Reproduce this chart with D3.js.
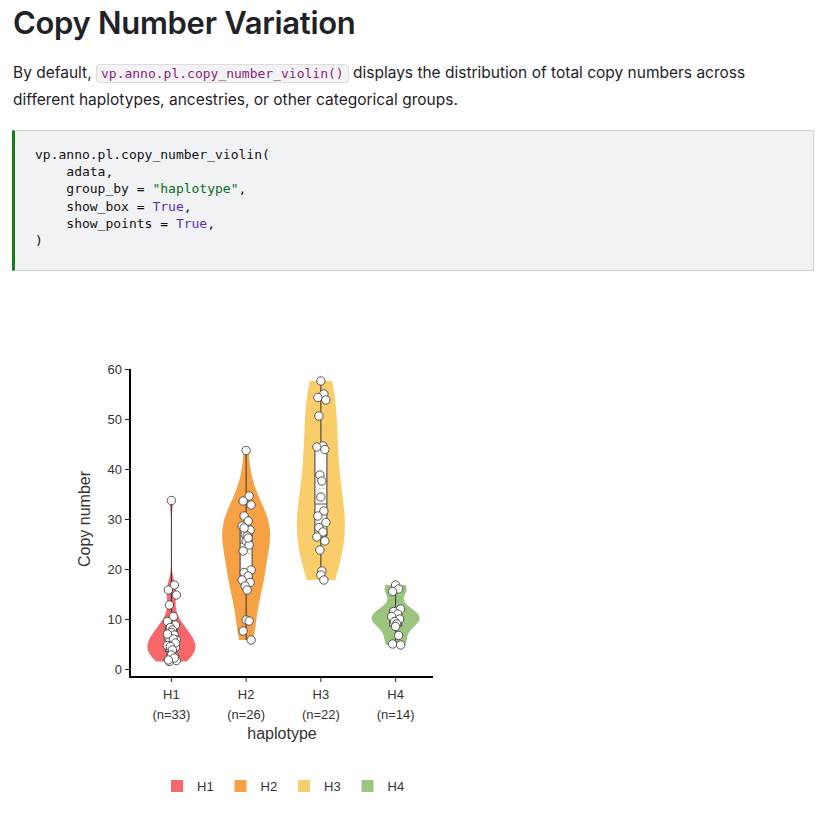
<!DOCTYPE html>
<html><head><meta charset="utf-8">
<script src="https://cdn.jsdelivr.net/npm/d3@7"></script>
<style>
body{margin:0;background:#fff;font-family:Inter,"Noto Sans",sans-serif;color:#1f2328}
h1{position:absolute;left:13px;top:4px;margin:0;font-size:31px;font-weight:600;letter-spacing:-0.3px}
p{position:absolute;left:13px;top:60px;margin:0;width:790px;font-size:15.5px;line-height:26px}
code.i{font-family:"DejaVu Sans Mono",monospace;font-size:13px;color:#8a1f7a;background:#f3f3f5;border:1px solid #ddd;border-radius:4px;padding:1px 4px}
pre{position:absolute;left:12px;top:130px;width:778px;height:124px;margin:0;background:#f1f2f4;border:1px solid #d0d0d0;border-left:3px solid #1a7a1a;padding:15px 0 0 20px;box-sizing:content-box;font-family:"DejaVu Sans Mono",monospace;font-size:13px;line-height:17.2px;color:#111}
.s{color:#0a6a1a}.k{color:#5b2bc4}
svg{position:absolute;left:0;top:0}
</style></head><body>
<h1>Copy Number Variation</h1>
<p>By default, <code class="i">vp.anno.pl.copy_number_violin()</code> displays the distribution of total copy numbers across different haplotypes, ancestries, or other categorical groups.</p>
<pre>vp.anno.pl.copy_number_violin(
    adata,
    group_by = <span class="s">"haplotype"</span>,
    show_box = <span class="k">True</span>,
    show_points = <span class="k">True</span>,
)</pre>
<svg id="c" width="818" height="820"></svg>
<script>
const categories=["H1","H2","H3","H4"];
const counts=[33,26,22,14];
const colors=["#F8676A","#F7A145","#F9CD6A","#9BC47E"];
const H1=[33.7,16.8,15.8,14.8,12.8,10.5,9.5,8.8,8.3,7.8,7.3,6.8,6.3,5.8,5.5,5.0,4.7,4.3,4.0,3.5,3.0,2.5,2.0,1.7,1.5,6.0,7.0,5.2,4.5,3.8,2.8,2.2,1.8];
const H2=[43.7,34.6,33.6,32.8,30.6,29.6,28.6,27.8,26.9,26.6,25.6,24.8,23.6,19.8,19.3,18.6,17.8,17.3,16.6,15.8,9.8,9.6,7.6,5.8,28.2,26.2];
const H3=[57.6,55.0,54.3,53.8,50.6,44.6,44.4,43.9,38.8,37.6,34.4,31.6,30.6,29.3,28.3,27.4,26.4,25.6,23.8,19.6,18.8,17.8];
const H4=[16.8,16.0,15.5,12.0,11.5,11.0,10.5,10.0,9.5,9.0,8.5,6.7,5.0,4.8];
const groups=[H1,H2,H3,H4];
const yTicks=[0,10,20,30,40,50,60];
const FF="Arial,Liberation Sans,sans-serif";
const svg=d3.select("#c");
const x=d3.scaleBand().domain(categories).range([134,433]).padding(0);
const cx=d=>x(d)+x.bandwidth()/2;
const y=d3.scaleLinear().domain([0,60]).range([669,369]);
const g=svg.append("g");
const halfW=24;
groups.forEach((vals,i)=>{
  const c=cx(categories[i]);
  const s=vals.slice().sort(d3.ascending);
  const n=s.length,sd=d3.deviation(s),iqr=d3.quantile(s,.75)-d3.quantile(s,.25);
  const bw=1.06*Math.min(sd,iqr/1.34)*Math.pow(n,-0.2);
  const lo=s[0],hi=s[n-1];
  const pts=d3.range(0,101).map(k=>{const v=lo+(hi-lo)*k/100;return [v,d3.sum(s,d=>Math.exp(-0.5*((v-d)/bw)**2))];});
  const mx=d3.max(pts,p=>p[1]);
  const w=d3.scaleLinear().domain([0,mx]).range([0,halfW]);
  g.append("path").attr("d",d3.area().y(p=>y(p[0])).x0(p=>c-w(p[1])).x1(p=>c+w(p[1])).curve(d3.curveBasis)(pts)).attr("fill",colors[i]);
  const q1=d3.quantile(s,.25),q3=d3.quantile(s,.75),med=d3.median(s),mean=d3.mean(s);
  g.append("line").attr("x1",c).attr("x2",c).attr("y1",y(lo)).attr("y2",y(hi)).attr("stroke","#333").attr("stroke-width",1);
  g.append("rect").attr("x",c-6).attr("width",12).attr("y",y(q3)).attr("height",y(q1)-y(q3)).attr("fill","#fff").attr("stroke","#555").attr("stroke-width",1.2);
  g.append("line").attr("x1",c-6).attr("x2",c+6).attr("y1",y(med)).attr("y2",y(med)).attr("stroke","#555");
  g.append("line").attr("x1",c-6).attr("x2",c+6).attr("y1",y(mean)).attr("y2",y(mean)).attr("stroke",colors[i]).attr("stroke-dasharray","2,2");
  vals.forEach((v,j)=>{
    const off=[0,3,-3,5,-2,2,-4,4,-1,1][j%10];
    g.append("circle").attr("cx",c+off).attr("cy",y(v)).attr("r",4.2).attr("fill","#fff").attr("stroke","#444").attr("stroke-width",0.9);
  });
});
const ya=svg.append("g").attr("transform","translate(130,0)").call(d3.axisLeft(y).tickValues(yTicks).tickSize(5).tickPadding(3));
ya.select(".domain").attr("stroke","#000").attr("stroke-width",2).attr("d","M0,369V677");
ya.selectAll("text").attr("font-size",13).attr("fill","#333").attr("font-family",FF);
const xa=svg.append("g").attr("transform","translate(0,677)").call(d3.axisBottom(x).tickSize(5).tickFormat(()=>""));
xa.select(".domain").attr("stroke","#000").attr("stroke-width",2).attr("d","M129,0H433");
categories.forEach((cat,i)=>{
  const c=cx(cat);
  const t=svg.append("text").attr("x",c).attr("text-anchor","middle").attr("font-size",13).attr("fill","#333").attr("font-family",FF);
  t.append("tspan").attr("x",c).attr("y",699).text(cat);
  t.append("tspan").attr("x",c).attr("y",719).text(`(n=${counts[i]})`);
});
svg.append("text").attr("x",282).attr("y",739).attr("text-anchor","middle").attr("font-size",16).attr("fill","#333").attr("font-family",FF).text("haplotype");
svg.append("text").attr("transform","translate(90,519) rotate(-90)").attr("text-anchor","middle").attr("font-size",16).attr("fill","#333").attr("font-family",FF).text("Copy number");
const lg=svg.append("g");
categories.forEach((cat,i)=>{
  const lx=171+i*63.5;
  lg.append("rect").attr("x",lx).attr("y",780).attr("width",12).attr("height",12).attr("fill",colors[i]);
  lg.append("text").attr("x",lx+26).attr("y",791).attr("font-size",13).attr("fill","#333").attr("font-family",FF).text(cat);
});
</script></body></html>
